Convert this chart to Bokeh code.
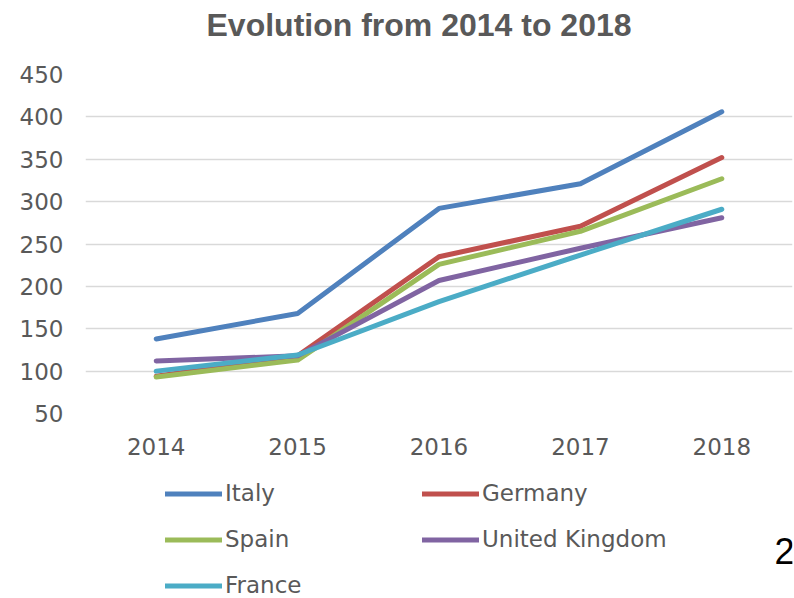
from bokeh.plotting import figure
from bokeh.models import Range1d, Legend, LegendItem, Label
from bokeh.layouts import column
from bokeh.embed import file_html
from bokeh.resources import INLINE

years = ["2014", "2015", "2016", "2017", "2018"]
italy = [138, 168, 292, 321, 406]
germany = [94, 118, 235, 271, 352]
spain = [93, 113, 226, 265, 327]
united_kingdom = [112, 118, 207, 245, 281]
france = [100, 119, 182, 237, 291]
title_text = "Evolution from 2014 to 2018"
page_number = "2"

series = [
    ("Italy", italy, "#4F81BD"),
    ("Germany", germany, "#C0504D"),
    ("Spain", spain, "#9BBB59"),
    ("United Kingdom", united_kingdom, "#8064A2"),
    ("France", france, "#4BACC6"),
]

W = 794


def blank(height):
    f = figure(width=W, height=height, x_range=Range1d(0, 1), y_range=Range1d(0, 1),
               output_backend="svg", toolbar_location=None, title=None,
               x_axis_type=None, y_axis_type=None,
               min_border_left=0, min_border_right=0, min_border_top=0, min_border_bottom=0)
    f.outline_line_color = None
    f.xgrid.visible = False
    f.ygrid.visible = False
    return f


# title strip
p0 = blank(59)
p0.add_layout(Label(x=121, y=35, x_units="screen", y_units="screen", text=title_text,
                    text_font="Liberation Sans", text_font_size="32px", text_font_style="bold",
                    text_color="#595959", text_align="left", text_baseline="middle"))

# main chart
p = figure(width=W, height=401, x_range=years, y_range=Range1d(50, 450),
           output_backend="svg", toolbar_location=None, title=None,
           min_border_left=85, min_border_right=2, min_border_top=15,
           min_border_bottom=47)
p.outline_line_color = None
p.x_range.range_padding = 0

p.yaxis.ticker = [50, 100, 150, 200, 250, 300, 350, 400, 450]
for ax in (p.xaxis[0], p.yaxis[0]):
    ax.axis_line_color = None
    ax.major_tick_line_color = None
    ax.minor_tick_line_color = None
    ax.major_label_text_font = "DejaVu Sans"
    ax.major_label_text_font_size = "23px"
    ax.major_label_text_color = "#595959"
p.yaxis.major_label_standoff = 16
p.xaxis.major_label_standoff = 18
p.xgrid.grid_line_color = None
p.ygrid.grid_line_color = "#D9D9D9"
p.ygrid.grid_line_width = 1.5

for name, vals, color in series:
    p.line(years, vals, line_color=color, line_width=5, line_cap="round", line_join="round")

# legend strip (its lines lie outside its own range; only the legend shows them)
p2 = blank(138)
items = []
for name, vals, color in series:
    r = p2.line(list(range(len(vals))), vals, line_color=color, line_width=5, line_cap="round")
    items.append(LegendItem(label=name, renderers=[r]))

legend = Legend(items=items, ncols=2, orientation="horizontal", location=(80, 0),
                glyph_width=57, glyph_height=25, label_height=25,
                label_standoff=3, label_width=177, spacing=20,
                padding=0, margin=0, border_line_color=None,
                background_fill_alpha=0,
                label_text_font="DejaVu Sans", label_text_font_size="23px",
                label_text_color="#595959")
p2.add_layout(legend, "center")

p2.add_layout(Label(x=699, y=48, x_units="screen", y_units="screen", text=page_number,
                    text_font="Liberation Sans", text_font_size="36px",
                    text_color="black", text_align="center", text_baseline="middle"))

open("out.html", "w").write(file_html(column(p0, p, p2), INLINE))
